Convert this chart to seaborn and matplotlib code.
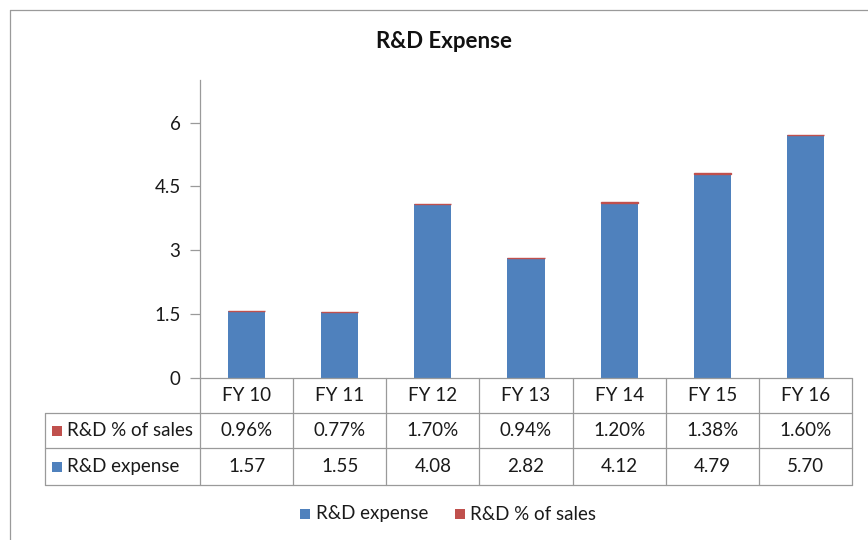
import matplotlib
matplotlib.use("Agg")
import matplotlib.pyplot as plt
from matplotlib.lines import Line2D
from matplotlib.patches import Rectangle
import seaborn as sns
import pandas as pd

categories = ["FY 10", "FY 11", "FY 12", "FY 13", "FY 14", "FY 15", "FY 16"]
rd_expense = [1.57, 1.55, 4.08, 2.82, 4.12, 4.79, 5.70]
rd_pct_sales = [0.96, 0.77, 1.70, 0.94, 1.20, 1.38, 1.60]
pct_labels = ["0.96%", "0.77%", "1.70%", "0.94%", "1.20%", "1.38%", "1.60%"]
exp_labels = ["1.57", "1.55", "4.08", "2.82", "4.12", "4.79", "5.70"]
yticks = [0, 1.5, 3, 4.5, 6]
ytick_labels = ["0", "1.5", "3", "4.5", "6"]

BLUE = "#4F81BD"
RED = "#C0504D"
GRID = "#9a9a9a"
TXT = "#1a1a1a"
FONT = "Lato"
FS = 13.5

sns.set_theme(style="white")
plt.rcParams["font.family"] = [FONT, "DejaVu Sans"]

W, H = 868, 540
fig = plt.figure(figsize=(W / 100, H / 100), dpi=100)
fig.patch.set_facecolor("white")

def fx(px):
    return px / W

def fy(py):
    return 1 - py / H

ax_l, ax_r, ax_t, ax_b = 200, 852, 80, 378
ax = fig.add_axes([fx(ax_l), fy(ax_b), fx(ax_r - ax_l), (ax_b - ax_t) / H])

df = pd.DataFrame({
    "cat": categories,
    "exp": rd_expense,
    "pct": [p / 100 for p in rd_pct_sales],
})

sns.barplot(data=df, x="cat", y="exp", color=BLUE, width=0.4, ax=ax,
            saturation=1, linewidth=0)
sns.barplot(data=df, x="cat", y="pct", color=RED, width=0.4, ax=ax,
            saturation=1, linewidth=1.0, edgecolor=RED,
            bottom=df["exp"].values)

ax.set_xlim(-0.5, len(categories) - 0.5)
ax.set_ylim(0, 7)
ax.set_yticks(yticks)
ax.set_yticklabels(ytick_labels, fontsize=FS, color=TXT)
ax.set_xticks([])
ax.set_xlabel("")
ax.set_ylabel("")
ax.tick_params(axis="y", length=7, width=0.9, color=GRID, direction="out",
               pad=7, left=True)
for s in ["top", "right", "bottom"]:
    ax.spines[s].set_visible(False)
ax.spines["left"].set_color(GRID)
ax.spines["left"].set_linewidth(0.9)

# Data table drawn in pixel coordinates
def add_line(x0, y0, x1, y1):
    fig.add_artist(Line2D([fx(x0), fx(x1)], [fy(y0), fy(y1)],
                          transform=fig.transFigure, color=GRID, lw=0.9))

row_y = [378, 413, 448, 485]
tbl_left = 45
col_w = (ax_r - ax_l) / len(categories)
add_line(ax_l, row_y[0], ax_r, row_y[0])
for y in row_y[1:]:
    add_line(tbl_left, y, ax_r, y)
add_line(tbl_left, row_y[1], tbl_left, row_y[3])
for i in range(len(categories) + 1):
    x = ax_l + i * col_w
    add_line(x, row_y[0], x, row_y[3])

txt_kw = dict(fontsize=FS, color=TXT, ha="center", va="center",
              transform=fig.transFigure)
for i, cat in enumerate(categories):
    cx = ax_l + (i + 0.5) * col_w
    fig.text(fx(cx), fy((row_y[0] + row_y[1]) / 2), cat, **txt_kw)
    fig.text(fx(cx), fy((row_y[1] + row_y[2]) / 2), pct_labels[i], **txt_kw)
    fig.text(fx(cx), fy((row_y[2] + row_y[3]) / 2), exp_labels[i], **txt_kw)

SQ = 10
row_names = [("R&D % of sales", RED), ("R&D expense", BLUE)]
for j, (name, col) in enumerate(row_names):
    cy = (row_y[j + 1] + row_y[j + 2]) / 2
    fig.add_artist(Rectangle((fx(52), fy(cy + SQ / 2)), fx(SQ), SQ / H,
                             transform=fig.transFigure, color=col, lw=0))
    fig.text(fx(67), fy(cy), name, fontsize=FS, color=TXT,
             ha="left", va="center", transform=fig.transFigure)

# Legend
leg_y = 514
fig.add_artist(Rectangle((fx(300), fy(leg_y + SQ / 2)), fx(SQ), SQ / H,
                         transform=fig.transFigure, color=BLUE, lw=0))
fig.text(fx(316), fy(leg_y), "R&D expense", fontsize=FS, color=TXT,
         ha="left", va="center")
fig.add_artist(Rectangle((fx(455), fy(leg_y + SQ / 2)), fx(SQ), SQ / H,
                         transform=fig.transFigure, color=RED, lw=0))
fig.text(fx(470), fy(leg_y), "R&D % of sales", fontsize=FS, color=TXT,
         ha="left", va="center")

# Title
fig.text(fx(444), fy(42), "R&D Expense", fontsize=16, fontweight="bold",
         color="#111111", ha="center", va="center")

# Outer border
add_line(10, 10, W, 10)
add_line(10, 10, 10, H)

fig.savefig("out.png", dpi=100, facecolor="white")
